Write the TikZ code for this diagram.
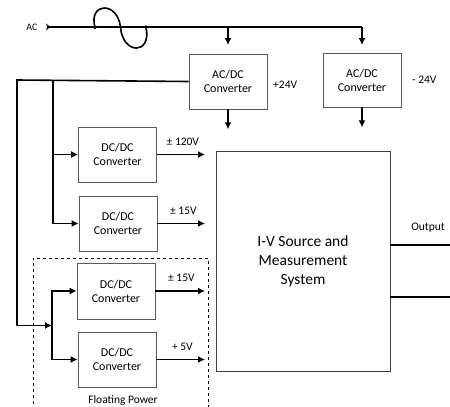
\documentclass[tikz,border=0pt]{standalone}
\usepackage{fontspec}
\setmainfont{Carlito}
\usepackage{tikz}
\usetikzlibrary{arrows.meta,positioning}

\tikzset{
  conv/.style={draw=black!65, line width=0.7pt, align=center, font=\fontsize{12}{14}\selectfont,
    minimum width=78pt, minimum height=55pt, inner sep=0pt},
  wire/.style={line width=1.6pt},
  arr/.style={wire, -{Latex[length=7pt,width=7pt]}},
  lbl/.style={font=\fontsize{11.5}{13}\selectfont, inner sep=1pt}
}

\begin{document}
\begin{tikzpicture}[x=1pt,y=-1pt]
\useasboundingbox (0,0) rectangle (450,407);
% Converter boxes
\node[conv] (acdc1) at (228,81.5) {AC/DC\\Converter};
\node[conv, minimum height=54pt] (acdc2) at (362,80) {AC/DC\\Converter};
\node[conv] (dcdc1) at (117.5,154.5) {DC/DC\\Converter};
\node[conv] (dcdc2) at (118,223.5) {DC/DC\\Converter};
\node[conv, minimum height=56pt] (dcdc3) at (116,291) {DC/DC\\Converter};
\node[conv] (dcdc4) at (117,359.5) {DC/DC\\Converter};
\node[draw=black!75, line width=0.8pt, minimum width=174pt, minimum height=220pt,
  align=center, font=\fontsize{15.5}{19}\selectfont] (iv) at (303,261)
  {I-V Source and\\Measurement\\System};

% AC input with sine symbol
\node[lbl, font=\fontsize{10}{12}\selectfont] (ac) at (32,27) {AC};
\coordinate (acin) at (46,27);
\coordinate (acout) at (362,27);
\coordinate (sinea) at (95,27.5);
\coordinate (sineb) at (146,27);
\draw[wire, {Stealth[reversed,length=4pt,width=7pt]}-] (acin) -- (acout);
\draw[wire] (sinea) .. controls (88,2) and (118,1) .. (120.5,27.5)
  .. controls (123,55) and (152,55) .. (sineb);
\fill (sinea) circle (1.8pt) (sineb) circle (1.8pt);
\draw[arr] (acdc1.north |- acout) -- (228,45);
\draw[arr] (acout) -- (362,45);

% +/-24V outputs
\draw[arr] (acdc1.south) -- ++(0,20);
\draw[arr] (acdc2.south) -- ++(0,20);
\node[lbl, anchor=west] (p24) at (272,85) {+24V};
\node[lbl, anchor=west] (m24) at (411,80) {- 24V};

% Bus to the DC/DC converters
\coordinate (bus0) at (17,80);
\coordinate (bus1) at (53,80);
\coordinate (junc) at (52,325.5);
\draw[wire] (acdc1.west) -- (bus0) -- (bus0 |- junc);
\draw[arr] (bus0 |- junc) -- (junc);
\draw[arr] (bus1) |- (dcdc1.west);
\draw[arr] (bus1) |- (dcdc2.west);
\draw[arr] (junc) |- (dcdc3.west);
\draw[arr] (junc) |- (dcdc4.west);

% DC/DC outputs
\coordinate (tip) at (205,0);
\foreach \b/\v in {dcdc1/{± 120V}, dcdc2/{± 15V}, dcdc3/{± 15V}, dcdc4/{+ 5V}} {
  \draw[arr] (\b.east) -- (\b.east -| tip);
  \node[lbl] at ([xshift=26pt,yshift=13pt]\b.east) {\v};
}

% Output terminals
\coordinate (outa) at (450,245);
\coordinate (outb) at (450,297);
\draw[wire] (iv.east |- outa) -- (outa);
\draw[wire] (iv.east |- outb) -- (outb);
\node[lbl] (outlbl) at (428,228) {Output};

% Floating power region
\draw[dashed, line width=0.6pt] (33,410) -- (33,258) -- (208,258) -- (208,410);
\node[lbl] (float) at (123,400) {Floating Power};
\end{tikzpicture}
\end{document}
